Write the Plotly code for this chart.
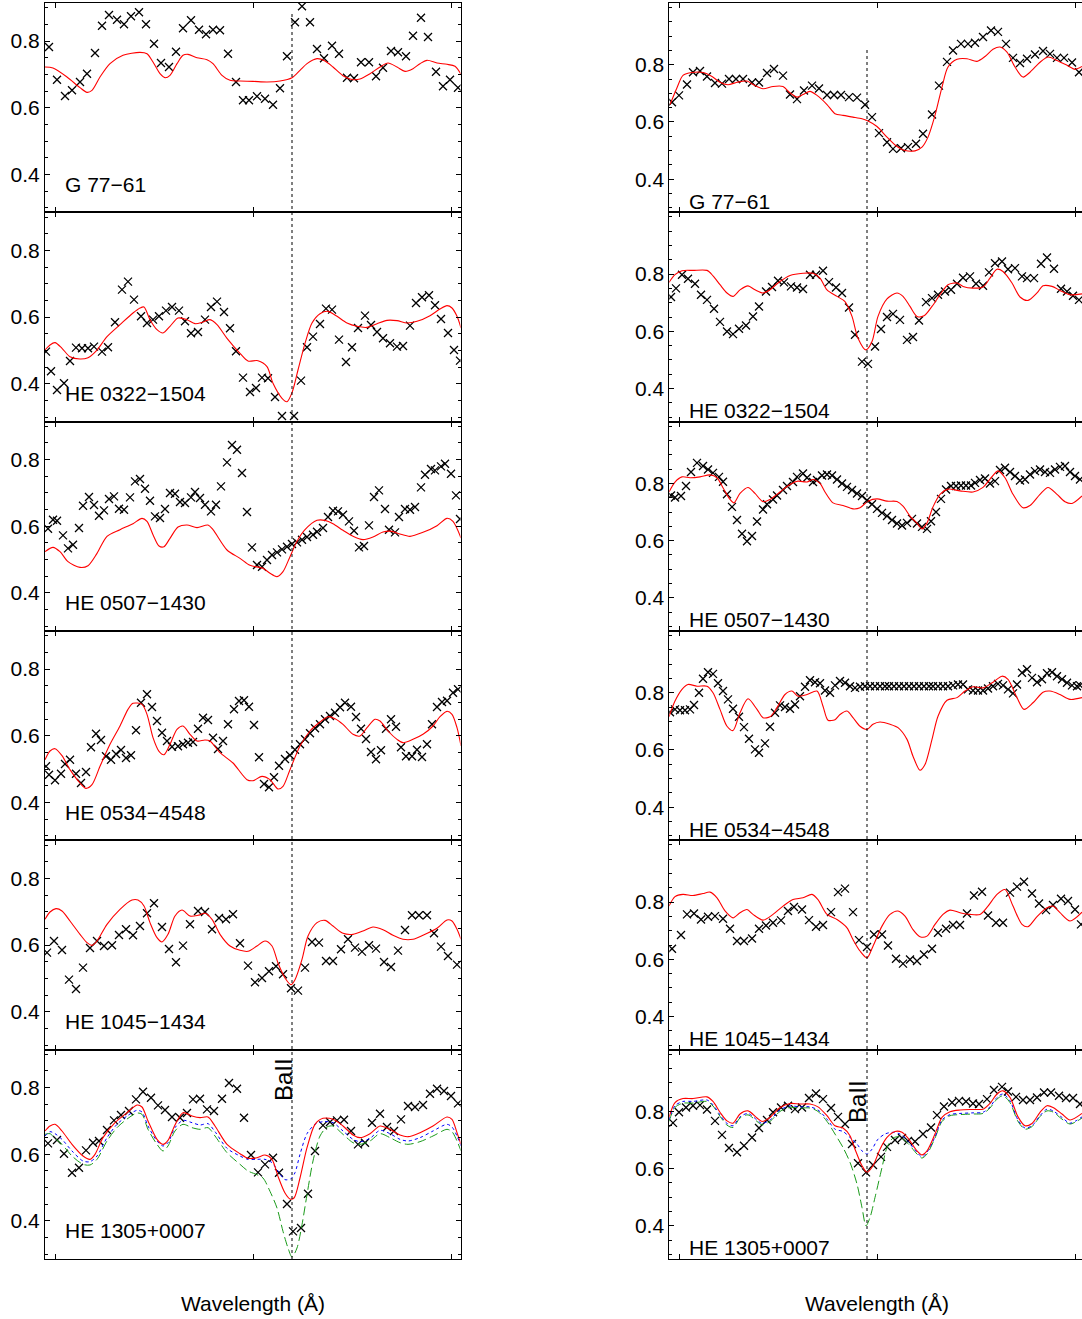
import plotly.graph_objects as go
from plotly.subplots import make_subplots

# ---------------- data: left column (Ba II blue line region) ----------------
STARS = ["G 77\u221261", "HE 0322\u22121504", "HE 0507\u22121430",
         "HE 0534\u22124548", "HE 1045\u22121434", "HE 1305+0007"]

BA_LINE_LEFT = 4552.92
BA_LINE_RIGHT = 6498.67

L1_OBS_WL = [4550.49, 4550.57, 4550.65, 4550.72, 4550.80, 4550.87, 4550.95, 4551.02, 4551.09, 4551.17, 4551.24, 4551.31, 4551.39, 4551.46, 4551.54, 4551.61, 4551.69, 4551.76, 4551.83, 4551.91, 4551.99, 4552.06, 4552.13, 4552.20, 4552.28, 4552.36, 4552.43, 4552.49, 4552.57, 4552.65, 4552.73, 4552.80, 4552.87, 4552.95, 4553.02, 4553.10, 4553.17, 4553.24, 4553.32, 4553.39, 4553.47, 4553.54, 4553.61, 4553.69, 4553.76, 4553.83, 4553.91, 4553.98, 4554.06, 4554.13, 4554.21, 4554.28, 4554.36, 4554.43, 4554.50, 4554.58]
L1_OBS_FLUX = [0.782, 0.684, 0.635, 0.652, 0.677, 0.702, 0.764, 0.846, 0.878, 0.864, 0.850, 0.874, 0.886, 0.850, 0.792, 0.734, 0.722, 0.768, 0.838, 0.862, 0.834, 0.820, 0.834, 0.832, 0.762, 0.677, 0.622, 0.622, 0.634, 0.627, 0.609, 0.658, 0.754, 0.856, 0.904, 0.856, 0.776, 0.748, 0.786, 0.762, 0.690, 0.688, 0.736, 0.736, 0.694, 0.720, 0.770, 0.766, 0.754, 0.816, 0.870, 0.812, 0.708, 0.664, 0.684, 0.660]
L1_MOD_WL = [4550.45, 4550.53, 4550.67, 4550.80, 4550.87, 4550.92, 4551.00, 4551.10, 4551.23, 4551.40, 4551.47, 4551.53, 4551.60, 4551.65, 4551.70, 4551.77, 4551.83, 4551.88, 4551.97, 4552.07, 4552.13, 4552.22, 4552.30, 4552.40, 4552.53, 4552.67, 4552.80, 4552.92, 4553.00, 4553.07, 4553.17, 4553.25, 4553.33, 4553.43, 4553.53, 4553.60, 4553.70, 4553.80, 4553.88, 4553.97, 4554.05, 4554.13, 4554.20, 4554.27, 4554.37, 4554.47, 4554.55, 4554.61]
L1_MOD_FLUX = [0.722, 0.719, 0.692, 0.660, 0.646, 0.652, 0.692, 0.732, 0.757, 0.766, 0.762, 0.737, 0.702, 0.690, 0.697, 0.732, 0.757, 0.760, 0.750, 0.744, 0.732, 0.697, 0.682, 0.680, 0.679, 0.677, 0.680, 0.690, 0.712, 0.732, 0.747, 0.740, 0.722, 0.696, 0.684, 0.686, 0.702, 0.722, 0.734, 0.722, 0.709, 0.717, 0.732, 0.742, 0.734, 0.730, 0.724, 0.700]

L2_OBS_WL = [4550.46, 4550.51, 4550.57, 4550.64, 4550.70, 4550.76, 4550.82, 4550.88, 4550.94, 4551.02, 4551.08, 4551.15, 4551.22, 4551.28, 4551.34, 4551.41, 4551.47, 4551.53, 4551.59, 4551.66, 4551.72, 4551.79, 4551.85, 4551.91, 4551.98, 4552.05, 4552.11, 4552.17, 4552.24, 4552.30, 4552.36, 4552.43, 4552.50, 4552.56, 4552.62, 4552.68, 4552.75, 4552.82, 4552.94, 4553.01, 4553.07, 4553.13, 4553.20, 4553.26, 4553.32, 4553.39, 4553.46, 4553.52, 4553.58, 4553.65, 4553.71, 4553.77, 4553.83, 4553.90, 4553.97, 4554.03, 4554.10, 4554.16, 4554.22, 4554.29, 4554.35, 4554.41, 4554.48, 4554.54, 4554.60]
L2_OBS_FLUX = [0.496, 0.437, 0.381, 0.401, 0.468, 0.508, 0.506, 0.506, 0.511, 0.496, 0.509, 0.584, 0.682, 0.706, 0.652, 0.602, 0.582, 0.592, 0.602, 0.619, 0.630, 0.619, 0.587, 0.551, 0.555, 0.592, 0.630, 0.646, 0.615, 0.566, 0.497, 0.418, 0.375, 0.387, 0.418, 0.416, 0.360, 0.303, 0.303, 0.409, 0.509, 0.541, 0.579, 0.625, 0.622, 0.532, 0.465, 0.509, 0.567, 0.604, 0.576, 0.555, 0.536, 0.521, 0.511, 0.513, 0.574, 0.642, 0.659, 0.665, 0.635, 0.594, 0.552, 0.501, 0.469]
L2_MOD_WL = [4550.45, 4550.50, 4550.55, 4550.62, 4550.70, 4550.80, 4550.88, 4550.97, 4551.07, 4551.20, 4551.33, 4551.40, 4551.44, 4551.50, 4551.57, 4551.63, 4551.70, 4551.78, 4551.87, 4551.95, 4552.03, 4552.10, 4552.17, 4552.27, 4552.40, 4552.48, 4552.58, 4552.67, 4552.73, 4552.82, 4552.87, 4552.92, 4552.98, 4553.05, 4553.12, 4553.20, 4553.28, 4553.37, 4553.47, 4553.57, 4553.67, 4553.77, 4553.87, 4553.97, 4554.07, 4554.17, 4554.30, 4554.40, 4554.47, 4554.52, 4554.57, 4554.61]
L2_MOD_FLUX = [0.501, 0.516, 0.523, 0.506, 0.481, 0.474, 0.478, 0.501, 0.541, 0.577, 0.612, 0.627, 0.630, 0.592, 0.562, 0.552, 0.572, 0.597, 0.592, 0.580, 0.585, 0.592, 0.577, 0.536, 0.491, 0.468, 0.469, 0.451, 0.401, 0.356, 0.346, 0.373, 0.441, 0.521, 0.582, 0.610, 0.617, 0.602, 0.582, 0.572, 0.569, 0.580, 0.590, 0.589, 0.582, 0.587, 0.604, 0.624, 0.634, 0.627, 0.602, 0.567]

L3_OBS_WL = [4550.48, 4550.53, 4550.57, 4550.63, 4550.68, 4550.73, 4550.79, 4550.83, 4550.89, 4550.94, 4550.99, 4551.04, 4551.09, 4551.14, 4551.19, 4551.24, 4551.30, 4551.35, 4551.40, 4551.45, 4551.50, 4551.55, 4551.60, 4551.65, 4551.70, 4551.75, 4551.80, 4551.85, 4551.91, 4551.95, 4552.00, 4552.05, 4552.11, 4552.16, 4552.21, 4552.27, 4552.32, 4552.37, 4552.42, 4552.47, 4552.52, 4552.57, 4552.62, 4552.67, 4552.72, 4552.77, 4552.82, 4552.87, 4552.92, 4552.97, 4553.02, 4553.07, 4553.13, 4553.17, 4553.23, 4553.28, 4553.33, 4553.38, 4553.43, 4553.49, 4553.54, 4553.59, 4553.64, 4553.69, 4553.74, 4553.79, 4553.85, 4553.89, 4553.95, 4553.99, 4554.05, 4554.10, 4554.15, 4554.21, 4554.25, 4554.31, 4554.35, 4554.41, 4554.45, 4554.51, 4554.56, 4554.60]
L3_OBS_FLUX = [0.593, 0.620, 0.617, 0.573, 0.534, 0.545, 0.595, 0.662, 0.688, 0.664, 0.632, 0.648, 0.682, 0.690, 0.653, 0.650, 0.687, 0.735, 0.742, 0.713, 0.677, 0.630, 0.625, 0.652, 0.700, 0.698, 0.673, 0.670, 0.687, 0.703, 0.685, 0.665, 0.645, 0.665, 0.720, 0.792, 0.844, 0.830, 0.760, 0.643, 0.537, 0.484, 0.479, 0.499, 0.514, 0.522, 0.531, 0.539, 0.547, 0.552, 0.560, 0.568, 0.575, 0.584, 0.595, 0.628, 0.647, 0.645, 0.635, 0.615, 0.587, 0.537, 0.541, 0.603, 0.688, 0.708, 0.652, 0.590, 0.582, 0.628, 0.652, 0.650, 0.658, 0.717, 0.755, 0.772, 0.768, 0.780, 0.788, 0.758, 0.693, 0.622]
L3_MOD_WL = [4550.45, 4550.53, 4550.60, 4550.68, 4550.80, 4550.88, 4550.97, 4551.07, 4551.20, 4551.33, 4551.42, 4551.47, 4551.53, 4551.59, 4551.64, 4551.70, 4551.78, 4551.87, 4551.97, 4552.08, 4552.13, 4552.27, 4552.40, 4552.50, 4552.63, 4552.70, 4552.77, 4552.83, 4552.90, 4552.97, 4553.05, 4553.17, 4553.25, 4553.33, 4553.43, 4553.53, 4553.63, 4553.73, 4553.83, 4553.92, 4554.00, 4554.10, 4554.23, 4554.37, 4554.47, 4554.53, 4554.61]
L3_MOD_FLUX = [0.524, 0.537, 0.524, 0.494, 0.477, 0.482, 0.519, 0.570, 0.590, 0.608, 0.624, 0.615, 0.575, 0.541, 0.539, 0.564, 0.598, 0.604, 0.596, 0.604, 0.590, 0.529, 0.504, 0.483, 0.474, 0.459, 0.449, 0.464, 0.509, 0.555, 0.590, 0.618, 0.618, 0.608, 0.588, 0.570, 0.560, 0.568, 0.583, 0.585, 0.577, 0.570, 0.582, 0.602, 0.624, 0.615, 0.565]

L4_OBS_WL = [4550.46, 4550.49, 4550.55, 4550.61, 4550.65, 4550.70, 4550.76, 4550.81, 4550.86, 4550.91, 4550.96, 4551.01, 4551.06, 4551.11, 4551.16, 4551.21, 4551.26, 4551.31, 4551.36, 4551.41, 4551.47, 4551.52, 4551.57, 4551.62, 4551.67, 4551.72, 4551.78, 4551.83, 4551.88, 4551.93, 4551.98, 4552.03, 4552.08, 4552.13, 4552.18, 4552.23, 4552.28, 4552.34, 4552.39, 4552.44, 4552.49, 4552.54, 4552.59, 4552.64, 4552.69, 4552.74, 4552.79, 4552.85, 4552.90, 4552.95, 4553.00, 4553.05, 4553.10, 4553.15, 4553.20, 4553.25, 4553.30, 4553.35, 4553.40, 4553.45, 4553.51, 4553.56, 4553.61, 4553.66, 4553.71, 4553.76, 4553.81, 4553.86, 4553.91, 4553.96, 4554.01, 4554.06, 4554.12, 4554.17, 4554.22, 4554.27, 4554.32, 4554.37, 4554.42, 4554.47, 4554.53, 4554.58]
L4_OBS_FLUX = [0.508, 0.483, 0.466, 0.486, 0.515, 0.528, 0.486, 0.458, 0.491, 0.565, 0.606, 0.587, 0.538, 0.528, 0.545, 0.557, 0.533, 0.541, 0.616, 0.699, 0.724, 0.686, 0.644, 0.609, 0.584, 0.567, 0.568, 0.574, 0.579, 0.581, 0.621, 0.654, 0.647, 0.594, 0.560, 0.584, 0.634, 0.679, 0.704, 0.706, 0.687, 0.632, 0.535, 0.455, 0.445, 0.475, 0.510, 0.530, 0.541, 0.558, 0.574, 0.589, 0.607, 0.622, 0.634, 0.649, 0.659, 0.669, 0.685, 0.699, 0.687, 0.656, 0.621, 0.590, 0.551, 0.529, 0.556, 0.621, 0.649, 0.627, 0.565, 0.538, 0.538, 0.558, 0.536, 0.574, 0.634, 0.686, 0.701, 0.705, 0.729, 0.739]
L4_MOD_WL = [4550.45, 4550.50, 4550.55, 4550.62, 4550.70, 4550.80, 4550.86, 4550.92, 4551.00, 4551.10, 4551.20, 4551.28, 4551.33, 4551.42, 4551.47, 4551.53, 4551.59, 4551.64, 4551.70, 4551.77, 4551.83, 4551.90, 4551.97, 4552.05, 4552.10, 4552.20, 4552.33, 4552.47, 4552.53, 4552.62, 4552.70, 4552.78, 4552.83, 4552.90, 4553.00, 4553.10, 4553.20, 4553.28, 4553.35, 4553.43, 4553.53, 4553.60, 4553.67, 4553.75, 4553.80, 4553.88, 4553.97, 4554.03, 4554.13, 4554.23, 4554.33, 4554.40, 4554.47, 4554.52, 4554.57, 4554.61]
L4_MOD_FLUX = [0.528, 0.554, 0.561, 0.540, 0.498, 0.458, 0.442, 0.453, 0.508, 0.574, 0.629, 0.679, 0.697, 0.694, 0.664, 0.594, 0.553, 0.543, 0.574, 0.619, 0.629, 0.604, 0.584, 0.587, 0.584, 0.549, 0.518, 0.468, 0.465, 0.478, 0.468, 0.440, 0.448, 0.498, 0.569, 0.614, 0.641, 0.657, 0.651, 0.634, 0.604, 0.599, 0.624, 0.649, 0.644, 0.614, 0.589, 0.579, 0.589, 0.604, 0.629, 0.657, 0.673, 0.664, 0.624, 0.569]

L5_OBS_WL = [4550.47, 4550.54, 4550.62, 4550.69, 4550.76, 4550.83, 4550.90, 4550.97, 4551.04, 4551.12, 4551.19, 4551.26, 4551.33, 4551.40, 4551.47, 4551.54, 4551.62, 4551.69, 4551.76, 4551.83, 4551.90, 4551.98, 4552.05, 4552.12, 4552.19, 4552.26, 4552.33, 4552.40, 4552.48, 4552.55, 4552.62, 4552.69, 4552.76, 4552.83, 4552.91, 4552.98, 4553.05, 4553.12, 4553.19, 4553.26, 4553.33, 4553.41, 4553.48, 4553.55, 4553.62, 4553.69, 4553.76, 4553.84, 4553.91, 4553.98, 4554.05, 4554.12, 4554.19, 4554.27, 4554.34, 4554.41, 4554.48, 4554.57]
L5_OBS_FLUX = [0.577, 0.612, 0.585, 0.496, 0.468, 0.532, 0.591, 0.612, 0.597, 0.599, 0.630, 0.647, 0.629, 0.657, 0.695, 0.725, 0.654, 0.588, 0.548, 0.598, 0.662, 0.702, 0.699, 0.647, 0.681, 0.677, 0.692, 0.605, 0.538, 0.488, 0.501, 0.521, 0.536, 0.512, 0.470, 0.463, 0.532, 0.609, 0.607, 0.552, 0.552, 0.587, 0.617, 0.592, 0.580, 0.599, 0.589, 0.549, 0.534, 0.583, 0.645, 0.689, 0.689, 0.689, 0.635, 0.595, 0.567, 0.541]
L5_MOD_WL = [4550.45, 4550.50, 4550.56, 4550.62, 4550.70, 4550.80, 4550.87, 4550.92, 4550.97, 4551.07, 4551.20, 4551.32, 4551.38, 4551.44, 4551.50, 4551.57, 4551.62, 4551.68, 4551.75, 4551.82, 4551.90, 4551.98, 4552.05, 4552.12, 4552.20, 4552.30, 4552.40, 4552.48, 4552.57, 4552.65, 4552.72, 4552.78, 4552.85, 4552.91, 4552.95, 4553.02, 4553.08, 4553.17, 4553.25, 4553.33, 4553.43, 4553.53, 4553.63, 4553.73, 4553.83, 4553.93, 4554.03, 4554.13, 4554.23, 4554.37, 4554.47, 4554.52, 4554.57, 4554.61]
L5_MOD_FLUX = [0.677, 0.699, 0.709, 0.702, 0.672, 0.632, 0.607, 0.599, 0.612, 0.662, 0.707, 0.735, 0.735, 0.717, 0.667, 0.622, 0.609, 0.632, 0.687, 0.705, 0.687, 0.689, 0.695, 0.677, 0.632, 0.597, 0.584, 0.581, 0.597, 0.612, 0.597, 0.546, 0.501, 0.481, 0.496, 0.557, 0.627, 0.667, 0.674, 0.657, 0.635, 0.632, 0.642, 0.654, 0.646, 0.629, 0.617, 0.617, 0.629, 0.650, 0.675, 0.672, 0.647, 0.617]

L6_OBS_WL = [4550.48, 4550.57, 4550.64, 4550.72, 4550.79, 4550.86, 4550.93, 4550.99, 4551.07, 4551.14, 4551.21, 4551.29, 4551.36, 4551.43, 4551.51, 4551.58, 4551.65, 4551.72, 4551.80, 4551.87, 4551.93, 4552.00, 4552.07, 4552.14, 4552.22, 4552.29, 4552.37, 4552.44, 4552.51, 4552.58, 4552.65, 4552.73, 4552.79, 4552.87, 4552.93, 4553.01, 4553.08, 4553.15, 4553.23, 4553.30, 4553.37, 4553.44, 4553.51, 4553.58, 4553.65, 4553.72, 4553.80, 4553.87, 4553.94, 4554.01, 4554.08, 4554.15, 4554.23, 4554.30, 4554.37, 4554.44, 4554.51, 4554.58]
L6_OBS_FLUX = [0.633, 0.643, 0.602, 0.545, 0.560, 0.612, 0.635, 0.640, 0.673, 0.702, 0.718, 0.730, 0.765, 0.788, 0.770, 0.747, 0.733, 0.712, 0.710, 0.724, 0.765, 0.767, 0.735, 0.730, 0.767, 0.814, 0.797, 0.710, 0.598, 0.546, 0.570, 0.590, 0.545, 0.451, 0.369, 0.379, 0.482, 0.610, 0.687, 0.697, 0.702, 0.704, 0.670, 0.630, 0.635, 0.695, 0.722, 0.682, 0.670, 0.705, 0.745, 0.742, 0.748, 0.782, 0.797, 0.790, 0.775, 0.753]
L6_MOD_WL = [4550.45, 4550.50, 4550.55, 4550.62, 4550.72, 4550.83, 4550.90, 4550.95, 4551.03, 4551.15, 4551.27, 4551.37, 4551.42, 4551.48, 4551.57, 4551.63, 4551.68, 4551.75, 4551.83, 4551.92, 4552.00, 4552.08, 4552.15, 4552.27, 4552.40, 4552.48, 4552.57, 4552.65, 4552.72, 4552.78, 4552.85, 4552.90, 4552.94, 4553.00, 4553.07, 4553.15, 4553.23, 4553.33, 4553.43, 4553.53, 4553.60, 4553.70, 4553.80, 4553.90, 4554.00, 4554.08, 4554.20, 4554.33, 4554.47, 4554.52, 4554.57, 4554.61]
L6_MOD_FLUX = [0.670, 0.685, 0.690, 0.670, 0.630, 0.595, 0.585, 0.600, 0.650, 0.695, 0.725, 0.748, 0.742, 0.700, 0.645, 0.630, 0.642, 0.688, 0.725, 0.715, 0.710, 0.712, 0.685, 0.630, 0.602, 0.588, 0.590, 0.598, 0.585, 0.534, 0.484, 0.466, 0.469, 0.529, 0.620, 0.690, 0.708, 0.705, 0.685, 0.658, 0.650, 0.662, 0.685, 0.675, 0.658, 0.653, 0.665, 0.685, 0.712, 0.705, 0.665, 0.630]
L6_ALT1_WL = [4550.45, 4550.50, 4550.55, 4550.62, 4550.72, 4550.83, 4550.90, 4550.97, 4551.07, 4551.17, 4551.28, 4551.37, 4551.42, 4551.48, 4551.57, 4551.63, 4551.68, 4551.75, 4551.83, 4551.92, 4552.00, 4552.08, 4552.15, 4552.27, 4552.40, 4552.48, 4552.57, 4552.65, 4552.72, 4552.78, 4552.85, 4552.91, 4552.95, 4553.00, 4553.07, 4553.15, 4553.23, 4553.33, 4553.43, 4553.53, 4553.60, 4553.70, 4553.80, 4553.90, 4554.00, 4554.08, 4554.20, 4554.33, 4554.47, 4554.52, 4554.57, 4554.61]
L6_ALT1_FLUX = [0.655, 0.668, 0.662, 0.645, 0.610, 0.580, 0.578, 0.595, 0.650, 0.690, 0.717, 0.732, 0.727, 0.685, 0.640, 0.625, 0.635, 0.680, 0.702, 0.695, 0.688, 0.692, 0.668, 0.618, 0.595, 0.585, 0.585, 0.585, 0.575, 0.550, 0.524, 0.527, 0.545, 0.600, 0.662, 0.690, 0.698, 0.695, 0.670, 0.645, 0.638, 0.648, 0.672, 0.662, 0.645, 0.640, 0.650, 0.670, 0.690, 0.682, 0.655, 0.625]
L6_ALT2_WL = [4550.45, 4550.50, 4550.55, 4550.62, 4550.72, 4550.83, 4550.90, 4550.97, 4551.07, 4551.17, 4551.28, 4551.37, 4551.42, 4551.48, 4551.57, 4551.63, 4551.68, 4551.75, 4551.83, 4551.92, 4552.00, 4552.08, 4552.15, 4552.27, 4552.40, 4552.48, 4552.57, 4552.63, 4552.70, 4552.77, 4552.83, 4552.88, 4552.92, 4552.97, 4553.02, 4553.07, 4553.13, 4553.20, 4553.27, 4553.33, 4553.43, 4553.53, 4553.60, 4553.70, 4553.80, 4553.90, 4554.00, 4554.08, 4554.20, 4554.33, 4554.47, 4554.52, 4554.57, 4554.61]
L6_ALT2_FLUX = [0.660, 0.662, 0.648, 0.630, 0.595, 0.570, 0.568, 0.585, 0.640, 0.680, 0.708, 0.724, 0.720, 0.675, 0.630, 0.610, 0.625, 0.670, 0.690, 0.680, 0.675, 0.680, 0.655, 0.605, 0.570, 0.550, 0.539, 0.529, 0.489, 0.439, 0.369, 0.319, 0.292, 0.319, 0.389, 0.479, 0.580, 0.655, 0.682, 0.685, 0.660, 0.635, 0.630, 0.640, 0.662, 0.650, 0.635, 0.630, 0.638, 0.655, 0.675, 0.668, 0.640, 0.610]

# ---------------- data: right column (Ba II red line region) ----------------
R1_OBS_WL = [6496.72, 6496.79, 6496.87, 6496.93, 6497.00, 6497.07, 6497.15, 6497.22, 6497.29, 6497.36, 6497.43, 6497.52, 6497.59, 6497.67, 6497.74, 6497.83, 6497.90, 6497.97, 6498.04, 6498.12, 6498.19, 6498.27, 6498.34, 6498.41, 6498.49, 6498.57, 6498.65, 6498.72, 6498.79, 6498.87, 6498.93, 6499.01, 6499.08, 6499.16, 6499.23, 6499.32, 6499.39, 6499.47, 6499.53, 6499.61, 6499.68, 6499.75, 6499.83, 6499.91, 6499.98, 6500.06, 6500.13, 6500.20, 6500.27, 6500.35, 6500.43, 6500.50, 6500.57, 6500.64, 6500.72, 6500.79]
R1_OBS_FLUX = [0.669, 0.693, 0.731, 0.774, 0.778, 0.759, 0.736, 0.734, 0.750, 0.750, 0.750, 0.738, 0.738, 0.771, 0.785, 0.762, 0.696, 0.680, 0.710, 0.727, 0.717, 0.694, 0.694, 0.694, 0.687, 0.685, 0.660, 0.617, 0.561, 0.529, 0.506, 0.508, 0.512, 0.524, 0.559, 0.626, 0.727, 0.810, 0.850, 0.873, 0.873, 0.877, 0.897, 0.920, 0.915, 0.873, 0.824, 0.806, 0.821, 0.836, 0.848, 0.838, 0.824, 0.824, 0.808, 0.774]
R1_MOD_WL = [6496.70, 6496.77, 6496.83, 6496.92, 6497.03, 6497.12, 6497.20, 6497.28, 6497.37, 6497.47, 6497.53, 6497.63, 6497.73, 6497.83, 6497.90, 6497.97, 6498.03, 6498.10, 6498.17, 6498.27, 6498.35, 6498.43, 6498.53, 6498.62, 6498.68, 6498.77, 6498.87, 6498.97, 6499.05, 6499.15, 6499.22, 6499.28, 6499.35, 6499.42, 6499.48, 6499.57, 6499.67, 6499.77, 6499.85, 6499.93, 6500.00, 6500.07, 6500.15, 6500.23, 6500.30, 6500.40, 6500.48, 6500.57, 6500.67, 6500.75, 6500.82]
R1_MOD_FLUX = [0.661, 0.720, 0.763, 0.773, 0.773, 0.759, 0.739, 0.730, 0.739, 0.743, 0.731, 0.716, 0.724, 0.724, 0.702, 0.687, 0.696, 0.707, 0.693, 0.661, 0.629, 0.623, 0.617, 0.611, 0.603, 0.584, 0.547, 0.514, 0.500, 0.499, 0.512, 0.547, 0.623, 0.722, 0.792, 0.819, 0.821, 0.812, 0.829, 0.854, 0.862, 0.844, 0.792, 0.757, 0.774, 0.809, 0.827, 0.815, 0.798, 0.784, 0.794]

R2_OBS_WL = [6496.71, 6496.76, 6496.82, 6496.88, 6496.95, 6497.01, 6497.07, 6497.14, 6497.20, 6497.27, 6497.33, 6497.39, 6497.46, 6497.53, 6497.59, 6497.66, 6497.72, 6497.78, 6497.84, 6497.91, 6497.97, 6498.03, 6498.10, 6498.16, 6498.23, 6498.29, 6498.36, 6498.42, 6498.49, 6498.55, 6498.62, 6498.68, 6498.75, 6498.81, 6498.87, 6498.93, 6499.00, 6499.07, 6499.13, 6499.19, 6499.26, 6499.32, 6499.38, 6499.45, 6499.51, 6499.57, 6499.63, 6499.70, 6499.76, 6499.83, 6499.89, 6499.95, 6500.02, 6500.08, 6500.15, 6500.22, 6500.27, 6500.34, 6500.41, 6500.47, 6500.54, 6500.61, 6500.67, 6500.73, 6500.79]
R2_OBS_FLUX = [0.720, 0.750, 0.798, 0.784, 0.766, 0.728, 0.710, 0.679, 0.633, 0.599, 0.590, 0.609, 0.620, 0.652, 0.687, 0.739, 0.755, 0.777, 0.771, 0.757, 0.753, 0.748, 0.798, 0.798, 0.812, 0.772, 0.753, 0.734, 0.683, 0.588, 0.494, 0.486, 0.547, 0.608, 0.650, 0.661, 0.640, 0.570, 0.580, 0.638, 0.702, 0.716, 0.728, 0.739, 0.745, 0.766, 0.787, 0.792, 0.766, 0.759, 0.806, 0.838, 0.844, 0.817, 0.821, 0.792, 0.786, 0.786, 0.836, 0.858, 0.819, 0.749, 0.739, 0.724, 0.710]
R2_MOD_WL = [6496.69, 6496.75, 6496.82, 6496.93, 6497.07, 6497.13, 6497.20, 6497.27, 6497.33, 6497.40, 6497.48, 6497.55, 6497.63, 6497.70, 6497.78, 6497.90, 6498.03, 6498.13, 6498.20, 6498.27, 6498.37, 6498.45, 6498.52, 6498.58, 6498.66, 6498.72, 6498.78, 6498.87, 6498.97, 6499.03, 6499.10, 6499.17, 6499.24, 6499.32, 6499.40, 6499.48, 6499.57, 6499.63, 6499.73, 6499.83, 6499.90, 6499.97, 6500.03, 6500.12, 6500.20, 6500.28, 6500.37, 6500.43, 6500.52, 6500.60, 6500.70, 6500.82]
R2_MOD_FLUX = [0.771, 0.798, 0.812, 0.813, 0.813, 0.794, 0.763, 0.734, 0.722, 0.745, 0.759, 0.745, 0.734, 0.745, 0.769, 0.795, 0.803, 0.803, 0.786, 0.745, 0.722, 0.704, 0.652, 0.576, 0.535, 0.564, 0.652, 0.713, 0.734, 0.722, 0.687, 0.652, 0.654, 0.687, 0.728, 0.763, 0.769, 0.757, 0.751, 0.755, 0.786, 0.817, 0.809, 0.769, 0.720, 0.708, 0.734, 0.759, 0.757, 0.743, 0.728, 0.731]

R3_OBS_WL = [6496.71, 6496.75, 6496.81, 6496.86, 6496.91, 6496.97, 6497.03, 6497.08, 6497.13, 6497.19, 6497.23, 6497.27, 6497.32, 6497.37, 6497.42, 6497.47, 6497.52, 6497.57, 6497.63, 6497.67, 6497.73, 6497.77, 6497.83, 6497.87, 6497.93, 6497.97, 6498.03, 6498.07, 6498.13, 6498.17, 6498.22, 6498.27, 6498.32, 6498.37, 6498.42, 6498.47, 6498.52, 6498.57, 6498.62, 6498.67, 6498.72, 6498.77, 6498.82, 6498.87, 6498.92, 6498.97, 6499.02, 6499.07, 6499.12, 6499.17, 6499.22, 6499.27, 6499.31, 6499.36, 6499.41, 6499.46, 6499.51, 6499.56, 6499.61, 6499.66, 6499.71, 6499.75, 6499.80, 6499.85, 6499.90, 6499.95, 6500.00, 6500.05, 6500.10, 6500.15, 6500.20, 6500.25, 6500.30, 6500.35, 6500.40, 6500.45, 6500.50, 6500.55, 6500.60, 6500.65, 6500.70, 6500.75, 6500.80]
R3_OBS_FLUX = [0.758, 0.751, 0.756, 0.791, 0.840, 0.872, 0.861, 0.849, 0.837, 0.823, 0.806, 0.762, 0.718, 0.672, 0.624, 0.598, 0.616, 0.667, 0.709, 0.727, 0.744, 0.758, 0.777, 0.791, 0.805, 0.823, 0.835, 0.820, 0.805, 0.812, 0.828, 0.831, 0.828, 0.814, 0.800, 0.788, 0.777, 0.765, 0.756, 0.741, 0.727, 0.711, 0.697, 0.686, 0.672, 0.660, 0.653, 0.662, 0.676, 0.660, 0.648, 0.641, 0.668, 0.700, 0.746, 0.779, 0.791, 0.791, 0.793, 0.793, 0.793, 0.802, 0.812, 0.817, 0.800, 0.808, 0.847, 0.855, 0.840, 0.826, 0.810, 0.814, 0.831, 0.843, 0.849, 0.840, 0.837, 0.849, 0.858, 0.861, 0.840, 0.826, 0.814]
R3_MOD_WL = [6496.69, 6496.75, 6496.82, 6496.90, 6497.00, 6497.10, 6497.17, 6497.23, 6497.30, 6497.34, 6497.40, 6497.48, 6497.55, 6497.63, 6497.70, 6497.80, 6497.90, 6497.98, 6498.07, 6498.13, 6498.20, 6498.25, 6498.33, 6498.43, 6498.53, 6498.60, 6498.68, 6498.77, 6498.87, 6498.97, 6499.03, 6499.10, 6499.18, 6499.22, 6499.27, 6499.33, 6499.40, 6499.48, 6499.60, 6499.73, 6499.83, 6499.90, 6499.98, 6500.05, 6500.13, 6500.23, 6500.30, 6500.40, 6500.48, 6500.57, 6500.65, 6500.72, 6500.82]
R3_MOD_FLUX = [0.770, 0.805, 0.823, 0.820, 0.823, 0.830, 0.820, 0.785, 0.744, 0.732, 0.765, 0.786, 0.765, 0.736, 0.744, 0.770, 0.796, 0.808, 0.805, 0.814, 0.800, 0.770, 0.732, 0.723, 0.711, 0.715, 0.738, 0.746, 0.738, 0.737, 0.721, 0.686, 0.657, 0.641, 0.662, 0.718, 0.762, 0.780, 0.774, 0.770, 0.786, 0.815, 0.844, 0.820, 0.762, 0.715, 0.723, 0.762, 0.786, 0.762, 0.736, 0.730, 0.756]

R4_OBS_WL = [6496.70, 6496.75, 6496.80, 6496.85, 6496.90, 6496.94, 6496.99, 6497.03, 6497.08, 6497.13, 6497.18, 6497.23, 6497.28, 6497.33, 6497.39, 6497.44, 6497.49, 6497.55, 6497.59, 6497.65, 6497.70, 6497.75, 6497.80, 6497.85, 6497.90, 6497.95, 6498.00, 6498.05, 6498.10, 6498.15, 6498.20, 6498.25, 6498.30, 6498.35, 6498.40, 6498.45, 6498.50, 6498.55, 6498.60,
             6498.65, 6498.70, 6498.75, 6498.80, 6498.85, 6498.89, 6498.94, 6498.99, 6499.04, 6499.09, 6499.14, 6499.19, 6499.24, 6499.29, 6499.33, 6499.38, 6499.43, 6499.48, 6499.53, 6499.58, 6499.63,
             6499.68, 6499.73, 6499.78, 6499.83, 6499.88, 6499.93, 6499.98, 6500.03, 6500.08, 6500.13, 6500.17, 6500.22, 6500.27, 6500.32, 6500.37, 6500.42, 6500.47, 6500.52, 6500.57, 6500.62, 6500.67, 6500.72, 6500.77, 6500.80]
R4_OBS_FLUX = [0.732, 0.742, 0.739, 0.739, 0.742, 0.757, 0.800, 0.849, 0.872, 0.866, 0.833, 0.806, 0.777, 0.744, 0.716, 0.680, 0.639, 0.602, 0.590, 0.623, 0.681, 0.730, 0.756, 0.750, 0.744, 0.759, 0.788, 0.821, 0.844, 0.837, 0.833, 0.808, 0.800, 0.826, 0.841, 0.835, 0.823, 0.817, 0.821,
               0.823, 0.823, 0.823, 0.823, 0.823, 0.823, 0.823, 0.823, 0.823, 0.823, 0.823, 0.823, 0.823, 0.823, 0.823, 0.823, 0.823, 0.823, 0.826, 0.829, 0.829,
               0.812, 0.808, 0.808, 0.808, 0.815, 0.823, 0.831, 0.826, 0.812, 0.798, 0.829, 0.870, 0.882, 0.852, 0.837, 0.847, 0.868, 0.872, 0.858, 0.847, 0.835, 0.826, 0.823, 0.826]
R4_MOD_WL = [6496.69, 6496.75, 6496.82, 6496.88, 6496.97, 6497.07, 6497.13, 6497.20, 6497.27, 6497.33, 6497.40, 6497.48, 6497.57, 6497.63, 6497.70, 6497.77, 6497.85, 6497.92, 6497.98, 6498.07, 6498.17, 6498.23, 6498.28, 6498.35, 6498.40, 6498.47, 6498.53, 6498.60, 6498.67, 6498.73, 6498.80, 6498.90, 6498.98, 6499.07, 6499.13, 6499.20, 6499.25, 6499.32, 6499.38, 6499.47, 6499.57, 6499.65, 6499.73, 6499.83, 6499.93, 6500.02, 6500.08, 6500.17, 6500.24, 6500.33, 6500.43, 6500.50, 6500.60, 6500.70, 6500.82]
R4_MOD_FLUX = [0.716, 0.771, 0.812, 0.829, 0.823, 0.823, 0.800, 0.742, 0.683, 0.668, 0.730, 0.779, 0.742, 0.713, 0.716, 0.748, 0.794, 0.806, 0.788, 0.794, 0.806, 0.753, 0.704, 0.706, 0.724, 0.736, 0.713, 0.683, 0.672, 0.690, 0.698, 0.690, 0.678, 0.637, 0.578, 0.529, 0.549, 0.637, 0.718, 0.774, 0.783, 0.806, 0.821, 0.817, 0.837, 0.858, 0.847, 0.783, 0.742, 0.765, 0.802, 0.806, 0.794, 0.777, 0.783]

R5_OBS_WL = [6496.72, 6496.81, 6496.87, 6496.94, 6497.01, 6497.08, 6497.15, 6497.23, 6497.30, 6497.37, 6497.44, 6497.52, 6497.59, 6497.66, 6497.73, 6497.81, 6497.88, 6497.94, 6498.02, 6498.09, 6498.16, 6498.23, 6498.31, 6498.38, 6498.45, 6498.53, 6498.59, 6498.67, 6498.74, 6498.82, 6498.88, 6498.96, 6499.03, 6499.10, 6499.17, 6499.24, 6499.32, 6499.38, 6499.46, 6499.53, 6499.60, 6499.67, 6499.74, 6499.82, 6499.88, 6499.96, 6500.03, 6500.10, 6500.17, 6500.24, 6500.32, 6500.39, 6500.46, 6500.53, 6500.61, 6500.68, 6500.75, 6500.81]
R5_OBS_FLUX = [0.637, 0.685, 0.757, 0.760, 0.739, 0.749, 0.751, 0.742, 0.707, 0.664, 0.664, 0.673, 0.707, 0.718, 0.728, 0.736, 0.769, 0.783, 0.774, 0.737, 0.714, 0.720, 0.765, 0.835, 0.847, 0.765, 0.667, 0.643, 0.687, 0.687, 0.648, 0.602, 0.585, 0.599, 0.594, 0.617, 0.637, 0.693, 0.707, 0.720, 0.720, 0.760, 0.823, 0.836, 0.753, 0.728, 0.728, 0.833, 0.854, 0.871, 0.830, 0.795, 0.772, 0.790, 0.812, 0.804, 0.774, 0.722]
R5_MOD_WL = [6496.69, 6496.75, 6496.83, 6496.93, 6497.03, 6497.10, 6497.17, 6497.25, 6497.33, 6497.40, 6497.47, 6497.53, 6497.63, 6497.73, 6497.83, 6497.93, 6498.03, 6498.12, 6498.18, 6498.27, 6498.37, 6498.47, 6498.53, 6498.60, 6498.67, 6498.73, 6498.82, 6498.90, 6498.98, 6499.05, 6499.13, 6499.20, 6499.27, 6499.35, 6499.43, 6499.50, 6499.60, 6499.70, 6499.80, 6499.88, 6499.97, 6500.05, 6500.13, 6500.22, 6500.28, 6500.37, 6500.47, 6500.53, 6500.60, 6500.70, 6500.82]
R5_MOD_FLUX = [0.786, 0.819, 0.827, 0.823, 0.830, 0.835, 0.815, 0.769, 0.745, 0.763, 0.774, 0.757, 0.737, 0.757, 0.786, 0.809, 0.815, 0.827, 0.809, 0.757, 0.739, 0.710, 0.669, 0.629, 0.605, 0.646, 0.716, 0.757, 0.769, 0.751, 0.704, 0.679, 0.681, 0.722, 0.757, 0.772, 0.763, 0.757, 0.757, 0.786, 0.827, 0.844, 0.786, 0.722, 0.714, 0.749, 0.780, 0.786, 0.763, 0.734, 0.765]

R6_OBS_WL = [6496.73, 6496.79, 6496.86, 6496.93, 6497.00, 6497.07, 6497.15, 6497.22, 6497.29, 6497.37, 6497.44, 6497.52, 6497.59, 6497.67, 6497.73, 6497.81, 6497.88, 6497.95, 6498.02, 6498.09, 6498.16, 6498.23, 6498.31, 6498.38, 6498.45, 6498.52, 6498.58, 6498.66, 6498.73, 6498.81, 6498.87, 6498.95, 6499.02, 6499.08, 6499.15, 6499.23, 6499.31, 6499.37, 6499.44, 6499.52, 6499.59, 6499.66, 6499.73, 6499.79, 6499.87, 6499.94, 6500.02, 6500.08, 6500.16, 6500.23, 6500.30, 6500.37, 6500.44, 6500.51, 6500.59, 6500.66, 6500.73, 6500.80]
R6_OBS_FLUX = [0.760, 0.797, 0.814, 0.820, 0.822, 0.807, 0.767, 0.718, 0.672, 0.657, 0.680, 0.709, 0.742, 0.770, 0.797, 0.814, 0.820, 0.808, 0.814, 0.847, 0.863, 0.843, 0.812, 0.781, 0.756, 0.686, 0.619, 0.587, 0.613, 0.641, 0.676, 0.700, 0.707, 0.697, 0.695, 0.721, 0.744, 0.787, 0.817, 0.831, 0.837, 0.835, 0.828, 0.826, 0.843, 0.875, 0.886, 0.870, 0.851, 0.840, 0.840, 0.849, 0.866, 0.866, 0.855, 0.847, 0.847, 0.826]
R6_MOD_WL = [6496.69, 6496.75, 6496.83, 6496.93, 6497.07, 6497.13, 6497.20, 6497.27, 6497.33, 6497.40, 6497.48, 6497.57, 6497.62, 6497.70, 6497.80, 6497.90, 6498.00, 6498.10, 6498.18, 6498.27, 6498.35, 6498.43, 6498.50, 6498.55, 6498.62, 6498.67, 6498.73, 6498.80, 6498.87, 6498.95, 6499.02, 6499.08, 6499.17, 6499.22, 6499.27, 6499.35, 6499.42, 6499.50, 6499.60, 6499.73, 6499.83, 6499.90, 6499.97, 6500.03, 6500.10, 6500.18, 6500.25, 6500.32, 6500.40, 6500.47, 6500.53, 6500.62, 6500.70, 6500.82]
R6_MOD_FLUX = [0.779, 0.831, 0.845, 0.845, 0.851, 0.835, 0.797, 0.767, 0.759, 0.791, 0.802, 0.777, 0.765, 0.779, 0.814, 0.828, 0.826, 0.826, 0.816, 0.785, 0.750, 0.742, 0.715, 0.668, 0.610, 0.587, 0.610, 0.668, 0.709, 0.730, 0.727, 0.707, 0.662, 0.648, 0.662, 0.721, 0.779, 0.799, 0.805, 0.807, 0.808, 0.828, 0.861, 0.872, 0.849, 0.781, 0.750, 0.758, 0.797, 0.820, 0.814, 0.791, 0.770, 0.793]
R6_ALT1_WL = [6496.69, 6496.75, 6496.83, 6496.93, 6497.07, 6497.13, 6497.20, 6497.27, 6497.33, 6497.40, 6497.48, 6497.57, 6497.62, 6497.70, 6497.80, 6497.90, 6498.00, 6498.10, 6498.18, 6498.27, 6498.35, 6498.43, 6498.50, 6498.57, 6498.62, 6498.67, 6498.72, 6498.78, 6498.85, 6498.92, 6499.00, 6499.08, 6499.17, 6499.22, 6499.27, 6499.35, 6499.42, 6499.50, 6499.60, 6499.73, 6499.83, 6499.90, 6499.97, 6500.03, 6500.10, 6500.18, 6500.25, 6500.32, 6500.40, 6500.47, 6500.53, 6500.62, 6500.70, 6500.82]
R6_ALT1_FLUX = [0.770, 0.820, 0.835, 0.835, 0.840, 0.823, 0.788, 0.758, 0.750, 0.781, 0.793, 0.770, 0.758, 0.770, 0.805, 0.819, 0.816, 0.816, 0.805, 0.773, 0.738, 0.730, 0.709, 0.686, 0.662, 0.651, 0.668, 0.703, 0.721, 0.727, 0.721, 0.695, 0.657, 0.641, 0.657, 0.711, 0.770, 0.789, 0.793, 0.795, 0.797, 0.816, 0.849, 0.861, 0.837, 0.770, 0.742, 0.750, 0.785, 0.808, 0.802, 0.779, 0.759, 0.781]
R6_ALT2_WL = [6496.69, 6496.75, 6496.83, 6496.93, 6497.07, 6497.13, 6497.20, 6497.27, 6497.33, 6497.40, 6497.48, 6497.57, 6497.62, 6497.70, 6497.80, 6497.90, 6498.00, 6498.10, 6498.18, 6498.27, 6498.35, 6498.43, 6498.50, 6498.57, 6498.62, 6498.66, 6498.70, 6498.75, 6498.82, 6498.87, 6498.93, 6499.00, 6499.08, 6499.17, 6499.22, 6499.27, 6499.35, 6499.42, 6499.50, 6499.60, 6499.73, 6499.83, 6499.90, 6499.97, 6500.03, 6500.10, 6500.18, 6500.25, 6500.32, 6500.40, 6500.47, 6500.53, 6500.62, 6500.70, 6500.82]
R6_ALT2_FLUX = [0.765, 0.814, 0.829, 0.829, 0.835, 0.819, 0.783, 0.752, 0.744, 0.777, 0.788, 0.765, 0.753, 0.765, 0.800, 0.814, 0.812, 0.812, 0.800, 0.765, 0.721, 0.674, 0.622, 0.546, 0.464, 0.400, 0.429, 0.499, 0.604, 0.674, 0.707, 0.711, 0.688, 0.651, 0.637, 0.651, 0.707, 0.765, 0.785, 0.789, 0.791, 0.793, 0.812, 0.843, 0.855, 0.831, 0.765, 0.738, 0.747, 0.782, 0.802, 0.798, 0.773, 0.756, 0.777]

LEFT_RANGE = [4550.45, 4554.605]
RIGHT_RANGE = [6496.693, 6500.82]
LEFT_XTICKS = [4550.55, 4552.53, 4554.51]
RIGHT_XTICKS = [6496.79, 6498.77, 6500.75]
LEFT_YRANGE = [0.286, 0.914]
RIGHT_YRANGE = [0.284, 1.016]
Y_TICKS = [0.4, 0.6, 0.8]
Y_TICKTEXT = ["0.4", "0.6", "0.8"]

LEFT_PANELS = [
    (L1_OBS_WL, L1_OBS_FLUX, L1_MOD_WL, L1_MOD_FLUX),
    (L2_OBS_WL, L2_OBS_FLUX, L2_MOD_WL, L2_MOD_FLUX),
    (L3_OBS_WL, L3_OBS_FLUX, L3_MOD_WL, L3_MOD_FLUX),
    (L4_OBS_WL, L4_OBS_FLUX, L4_MOD_WL, L4_MOD_FLUX),
    (L5_OBS_WL, L5_OBS_FLUX, L5_MOD_WL, L5_MOD_FLUX),
    (L6_OBS_WL, L6_OBS_FLUX, L6_MOD_WL, L6_MOD_FLUX),
]
RIGHT_PANELS = [
    (R1_OBS_WL, R1_OBS_FLUX, R1_MOD_WL, R1_MOD_FLUX),
    (R2_OBS_WL, R2_OBS_FLUX, R2_MOD_WL, R2_MOD_FLUX),
    (R3_OBS_WL, R3_OBS_FLUX, R3_MOD_WL, R3_MOD_FLUX),
    (R4_OBS_WL, R4_OBS_FLUX, R4_MOD_WL, R4_MOD_FLUX),
    (R5_OBS_WL, R5_OBS_FLUX, R5_MOD_WL, R5_MOD_FLUX),
    (R6_OBS_WL, R6_OBS_FLUX, R6_MOD_WL, R6_MOD_FLUX),
]

# ---------------- figure ----------------
W, H = 1082, 1319
FONT = "Liberation Sans, Arial, Helvetica, sans-serif"
RED = "#ff0000"
BLUE = "#0000ff"
GREEN = "#1a9a1a"

fig = make_subplots(rows=6, cols=2)

TOP_PX, BOT_PX = 3.0, 1259.0
PH = (BOT_PX - TOP_PX) / 6.0
LEFT_DOM = [45.0 / W, 460.5 / W]
RIGHT_DOM = [669.3 / W, 1.0]


def ax_name(kind, idx):
    return f"{kind}axis" if idx == 1 else f"{kind}axis{idx}"


def ref(kind, idx):
    return kind if idx == 1 else f"{kind}{idx}"


for r in range(6):
    top = TOP_PX + r * PH
    bot = top + PH
    ydom = [1 - bot / H, 1 - top / H]
    for c in range(2):
        idx = 2 * r + c + 1
        left = c == 0
        fig.layout[ax_name("x", idx)].update(
            domain=LEFT_DOM if left else RIGHT_DOM,
            range=LEFT_RANGE if left else RIGHT_RANGE,
            tickvals=LEFT_XTICKS if left else RIGHT_XTICKS,
            showticklabels=False, ticks="inside", ticklen=5, tickwidth=1,
            tickcolor="black", showline=True, linecolor="black", linewidth=1,
            mirror="allticks", showgrid=False, zeroline=False,
        )
        fig.layout[ax_name("y", idx)].update(
            domain=ydom,
            range=LEFT_YRANGE if left else RIGHT_YRANGE,
            tickvals=Y_TICKS, ticktext=Y_TICKTEXT,
            ticks="inside", ticklen=5, tickwidth=1, tickcolor="black",
            tickfont=dict(family=FONT, size=21, color="black"),
            minor=dict(dtick=0.05, tick0=0, ticks="inside", ticklen=3,
                       tickcolor="black", showgrid=False),
            showline=True, linecolor="black", linewidth=1,
            mirror="allticks" if left else False,
            showgrid=False, zeroline=False,
        )

        obs_wl, obs_fx, mod_wl, mod_fx = (LEFT_PANELS if left else RIGHT_PANELS)[r]
        xr, yr = ref("x", idx), ref("y", idx)
        fig.add_trace(go.Scatter(
            x=obs_wl, y=obs_fx, mode="markers", xaxis=xr, yaxis=yr,
            marker=dict(symbol="x-thin", size=8, color="black",
                        line=dict(width=1.3, color="black")),
            showlegend=False, hoverinfo="skip"))
        if r == 5:
            alt = [(L6_ALT2_WL, L6_ALT2_FLUX, GREEN, "9px,4px"),
                   (L6_ALT1_WL, L6_ALT1_FLUX, BLUE, "dot")] if left else \
                  [(R6_ALT2_WL, R6_ALT2_FLUX, GREEN, "9px,4px"),
                   (R6_ALT1_WL, R6_ALT1_FLUX, BLUE, "dot")]
            for aw, af, col, dash in alt:
                fig.add_trace(go.Scatter(
                    x=aw, y=af, mode="lines", xaxis=xr, yaxis=yr,
                    line=dict(color=col, width=1, dash=dash, shape="spline", smoothing=0.8),
                    showlegend=False, hoverinfo="skip"))
        fig.add_trace(go.Scatter(
            x=mod_wl, y=mod_fx, mode="lines", xaxis=xr, yaxis=yr,
            line=dict(color=RED, width=1.1, shape="spline", smoothing=0.8),
            showlegend=False, hoverinfo="skip"))

        # star name
        cap_center = (184.0 if left else 201.0) + r * PH
        fig.add_annotation(
            text=STARS[r], xref="paper", yref="paper",
            x=(63 if left else 687) / W, y=1 - cap_center / H,
            xanchor="left", yanchor="middle", showarrow=False,
            font=dict(family=FONT, size=21, color="black"))

# Ba II reference lines (dotted), spanning all panels
fig.add_shape(type="line", xref="x", yref="paper", x0=BA_LINE_LEFT, x1=BA_LINE_LEFT,
              y0=1 - BOT_PX / H, y1=1 - 13 / H,
              line=dict(color="black", width=1, dash="dot"))
fig.add_shape(type="line", xref="x2", yref="paper", x0=BA_LINE_RIGHT, x1=BA_LINE_RIGHT,
              y0=1 - BOT_PX / H, y1=1 - 50 / H,
              line=dict(color="black", width=1, dash="dot"))

# Ba II labels
for xc, yc in [(283, 1080), (857, 1102)]:
    fig.add_annotation(text="BaII", xref="paper", yref="paper", x=xc / W, y=1 - yc / H,
                       xanchor="center", yanchor="middle", textangle=-90, showarrow=False,
                       font=dict(family=FONT, size=24, color="black"))

# x-axis titles
for xc in [252.75, 877.0]:
    fig.add_annotation(text="Wavelength (\u00c5)", xref="paper", yref="paper",
                       x=xc / W, y=1 - 1303 / H, xanchor="center", yanchor="middle",
                       showarrow=False, font=dict(family=FONT, size=21, color="black"))

fig.update_layout(width=W, height=H, margin=dict(l=0, r=0, t=0, b=0),
                  paper_bgcolor="white", plot_bgcolor="white", showlegend=False,
                  font=dict(family=FONT, size=21, color="black"))

fig.write_html("out.html", config={"displayModeBar": False},
               post_script="document.body.style.margin='0px';document.body.style.overflow='hidden';")
